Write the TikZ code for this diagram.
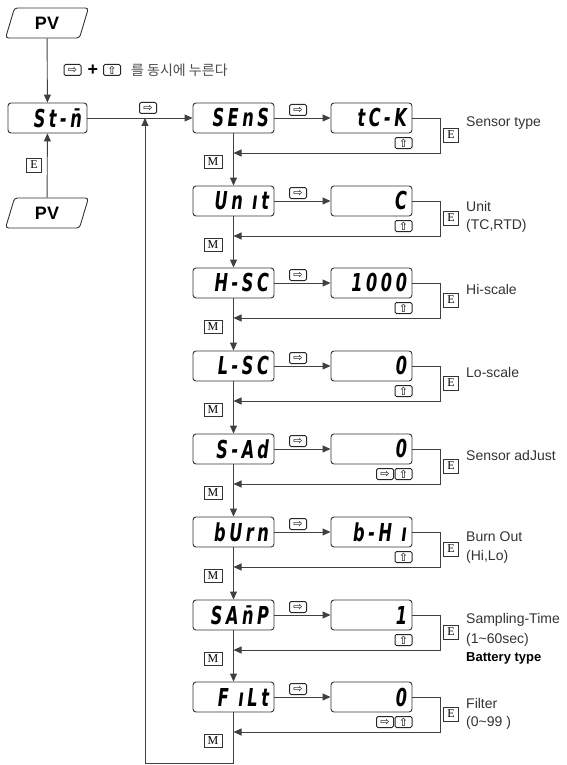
\documentclass[tikz,border=0pt]{standalone}
\usepackage{fontspec}
\usepackage{graphicx}
\usetikzlibrary{arrows.meta,shapes.geometric,calc}
\setmainfont{Liberation Sans}
\newfontfamily\krfont{Noto Sans CJK KR}
\newfontfamily\symfont{DejaVu Sans}
\newfontfamily\serfont{Liberation Serif}
\newfontfamily\segfont{DejaVu Sans}[LetterSpace=22]
\newcommand{\seg}[1]{\scalebox{0.85}[1.3]{\fontsize{19}{19}\selectfont\segfont\bfseries\itshape #1}}
\newcommand{\segsp}{\hspace*{11pt}}
\newcommand{\rk}{⇨}
\newcommand{\uk}{⇧}
\begin{document}
\begin{tikzpicture}[x=1pt,y=-1pt,
  ln/.style={draw=black!75, line width=0.9pt},
  arr/.style={ln, -{Triangle[length=8pt,width=7pt]}},
  disp/.style={draw=black!80, line width=0.9pt, rounded corners=3pt, minimum height=30pt,
     inner xsep=5pt, inner ysep=0pt, text width=71pt, align=right},
  pvbox/.style={trapezium, trapezium left angle=75, trapezium right angle=105,
     trapezium stretches=true, draw=black!80, line width=0.9pt, rounded corners=3pt,
     minimum width=83pt, minimum height=30pt, inner sep=0pt,
     font=\fontsize{18}{18}\selectfont\bfseries},
  keybox/.style={draw=black!85, line width=1pt, rounded corners=1.5pt, minimum width=17pt,
     minimum height=11pt, inner sep=0pt, font=\symfont\fontsize{11}{11}\selectfont},
  ekey/.style={draw=black!80, line width=0.6pt, minimum width=15pt, minimum height=14pt,
     inner sep=0pt, font=\serfont\fontsize{12}{12}\selectfont},
  mkey/.style={ekey, minimum width=18pt, minimum height=13pt},
  lbl/.style={anchor=west, inner sep=0pt, font=\fontsize{14}{14}\selectfont, text=black!80}
]
\useasboundingbox (0,0) rectangle (566,765);

% left part
\node[pvbox] (pv1) at (47,23) {PV};
\node[pvbox] (pv2) at (47,213) {PV};
\node[disp, text width=69pt] (stm) at (47.5,118) {\seg{St-\=n}};
\draw[arr] (pv1) -- (stm);
\draw[arr] (pv2) -- (stm);
\node[ekey] (epv) at (34,165) {E};

\node[keybox] (ka) at (72.5,70) {\rk};
\node[inner sep=0pt, font=\fontsize{18}{18}\selectfont\bfseries] (plus) at (93,70) {+};
\node[keybox] (kb) at (112,70) {\uk};
\node[anchor=west, inner sep=0pt, text=black!70, font=\krfont\fontsize{14}{14}\selectfont] (kr) at (131,70) {를 동시에 누른다};

% rows
\foreach \i/\y/\lt/\rt/\dk in {
  1/118/SEnS/tC-K/0,
  2/201/Un\segsp ıt/C/0,
  3/283/H-SC/1000/0,
  4/366/L-SC/0/0,
  5/449/S-Ad/0/1,
  6/532/bUrn/b-H\segsp ı/0,
  7/615/SA\=nP/1/0,
  8/697/F\segsp ıLt/0/1}{
  \node[disp] (L\i) at (233.5,\y) {\seg{\lt}};
  \node[disp] (R\i) at (371.5,\y) {\seg{\rt}};
  \draw[arr] (L\i) -- (R\i);
  \node[keybox] (kr\i) at (298,\y-8) {\rk};
  \coordinate (fb\i) at (233.5,\y+35);
  \coordinate (fc\i) at (440,\y+35);
  \draw[arr] (R\i.east) -| (fc\i) -- (fb\i);
  \node[ekey] (e\i) at (451,\y+17) {E};
  \node[mkey] (m\i) at (213,\y+44) {M};
  \node[keybox] (ku\i) at (403.5,\y+25) {\uk};
  \ifnum\dk=1
    \node[keybox] (kd\i) at (385,\y+25) {\rk};
  \fi
}
\foreach \i/\j in {1/2,2/3,3/4,4/5,5/6,6/7,7/8}{
  \draw[arr] (L\i) -- (L\j);
}
\draw[arr] (stm) -- (L1);
\node[keybox] (k0) at (148,108) {\rk};

% loop back
\coordinate (lb) at (233.5,763);
\coordinate (ll) at (145,763);
\coordinate (lt) at (145,118);
\draw[arr] (L8) -- (lb) -- (ll) -- (lt);

% labels
\node[lbl] (t1) at (466,123) {Sensor type};
\node[lbl] (t2a) at (466,206) {Unit};
\node[lbl] (t2b) at (466,226) {(TC,RTD)};
\node[lbl] (t3) at (466,289) {Hi-scale};
\node[lbl] (t4) at (466,372) {Lo-scale};
\node[lbl] (t5) at (466,455) {Sensor adJust};
\node[lbl] (t6a) at (466,537) {Burn Out};
\node[lbl] (t6b) at (466,557) {(Hi,Lo)};
\node[lbl] (t7a) at (466,620) {Sampling-Time};
\node[lbl] (t7b) at (466,640) {(1\textasciitilde 60sec)};
\node[lbl, font=\fontsize{13}{13}\selectfont\bfseries, text=black] (t7c) at (466,658) {Battery type};
\node[lbl] (t8a) at (466,703) {Filter};
\node[lbl] (t8b) at (466,723) {(0\textasciitilde 99 )};
\end{tikzpicture}
\end{document}
